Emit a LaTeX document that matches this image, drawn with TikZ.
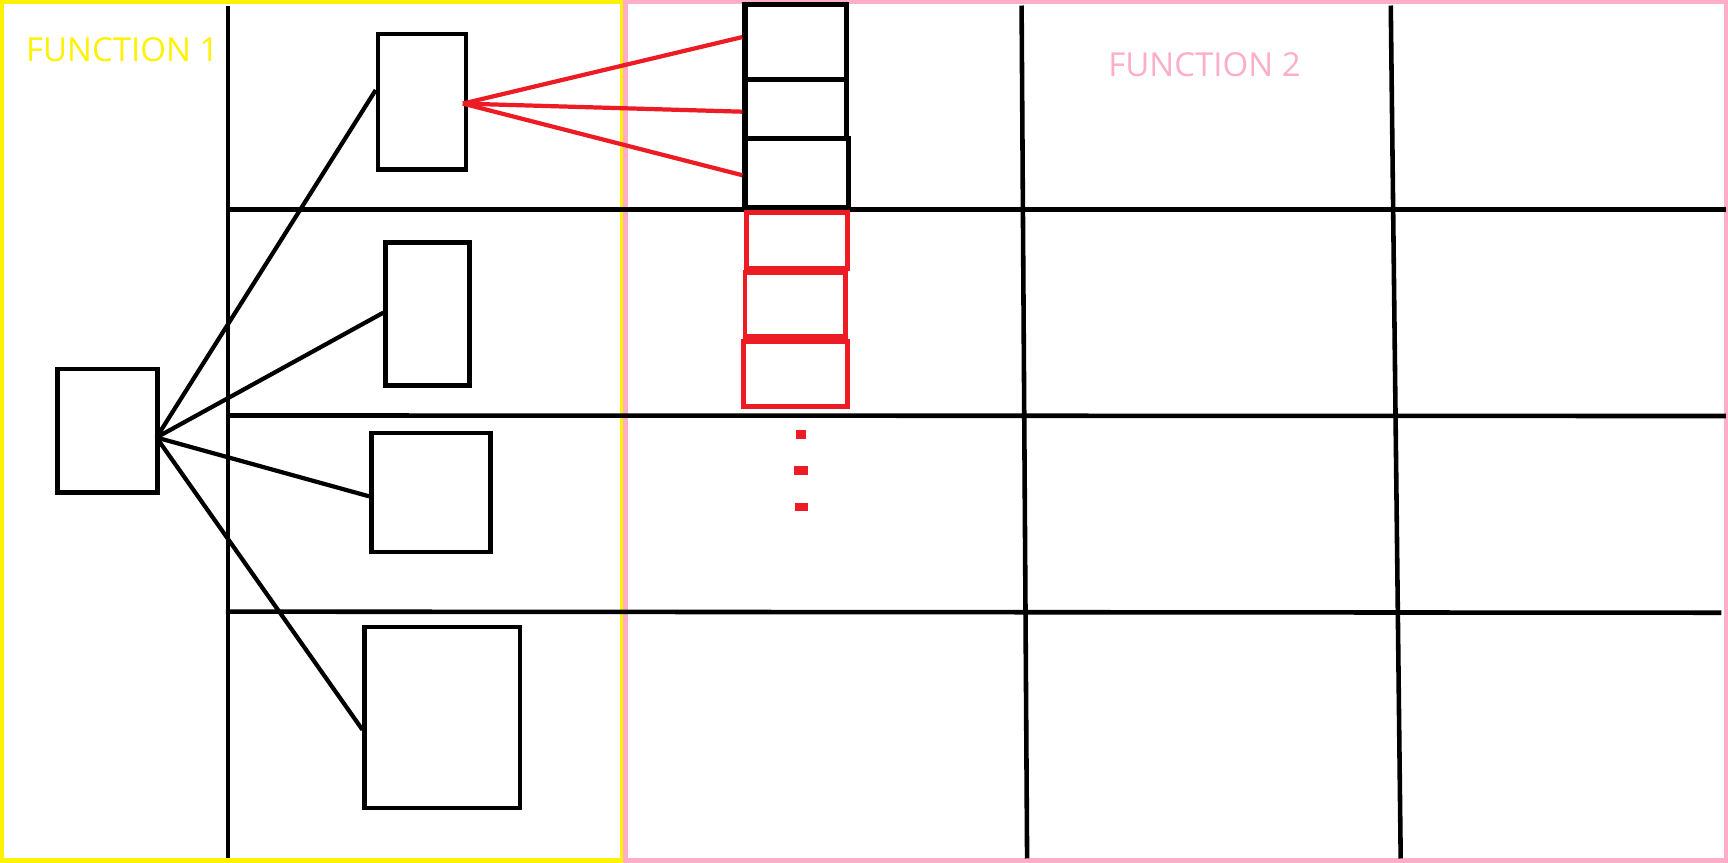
\documentclass[tikz,border=0pt]{standalone}
\usepackage{fontspec}
\setmainfont{Open Sans}
\usetikzlibrary{fit,calc}
\definecolor{pyellow}{RGB}{255,242,0}
\definecolor{ppink}{RGB}{255,174,201}
\definecolor{pred}{RGB}{237,28,36}
\begin{document}
\begin{tikzpicture}[x=0.01102cm,y=-0.01102cm,
  bx/.style={draw=black, line width=1.3pt, inner sep=0pt, rectangle},
  sbx/.style={draw=black, line width=1.5pt, inner sep=0pt, rectangle},
  rbx/.style={draw=pred, line width=1.4pt, inner sep=0pt, rectangle},
  gridline/.style={black, line width=1.3pt},
  link/.style={black, line width=1.2pt},
  rlink/.style={pred, line width=1.2pt},
  lbl/.style={font=\fontsize{9.4}{11}\selectfont, inner sep=0pt, anchor=west}]
\useasboundingbox (0,0) rectangle (1568,783);
\fill[white] (0,0) rectangle (1568,783);
% frames
\draw[pyellow, line width=1.3pt] (2,2) rectangle (564.5,781);
\draw[ppink, line width=1.4pt] (567.5,1.5) rectangle (1566.5,781);
% grid
\draw[gridline] (207,5) -- (207,779);
\draw[gridline] (927,5) -- (932,779);
\draw[gridline] (1262,5) -- (1271,779);
\draw[gridline] (207,190) -- (1566,190);
\draw[gridline] (207,377) -- (1566,377.5);
\draw[gridline] (205,555) -- (1562,556);
% labels
\node[lbl, text=pyellow] (f1) at (23,45) {FUNCTION 1};
\node[lbl, text=ppink] (f2) at (1005,59) {FUNCTION 2};
% boxes
\node[bx, fit={(52,335) (143,447)}] (L) {};
\node[bx, fit={(343,31) (423,154)}] (A) {};
\node[bx, fit={(350,220) (426,350)}] (B) {};
\node[bx, fit={(337,393) (445,501)}] (C) {};
\node[bx, fit={(331,569) (472,733)}] (D) {};
\node[sbx, fit={(676,4) (768,72)}] (b1) {};
\node[sbx, fit={(676,72) (768,126)}] (b2) {};
\node[sbx, fit={(676,126) (770,188)}] (b3) {};
\node[rbx, fit={(677,193) (769,244)}] (r1) {};
\node[rbx, fit={(676,247) (767,305)}] (r2) {};
\node[rbx, fit={(675,310) (769,369)}] (r3) {};
% dots
\fill[pred] (722.5,390) rectangle (731.5,398);
\fill[pred] (720.5,423) rectangle (733.5,431);
\fill[pred] (721.5,456) rectangle (733.5,464);
% black fan
\coordinate (lo) at (142,397);
\draw[link] (lo) -- ($(A.north west)!0.415!(A.south west)$);
\draw[link] (lo) -- ($(B.north west)!0.49!(B.south west)$);
\draw[link] (lo) -- ($(C.north west)!0.53!(C.south west)$);
\draw[link] (lo) -- ($(D.north west)!0.567!(D.south west)$);
% red fan
\coordinate (ro) at (420,94);
\draw[rlink] (ro) -- ($(b1.north west)!0.44!(b1.south west)$);
\draw[rlink] (ro) -- ($(b2.north west)!0.54!(b2.south west)$);
\draw[rlink] (ro) -- ($(b3.north west)!0.53!(b3.south west)$);
\end{tikzpicture}
\end{document}
